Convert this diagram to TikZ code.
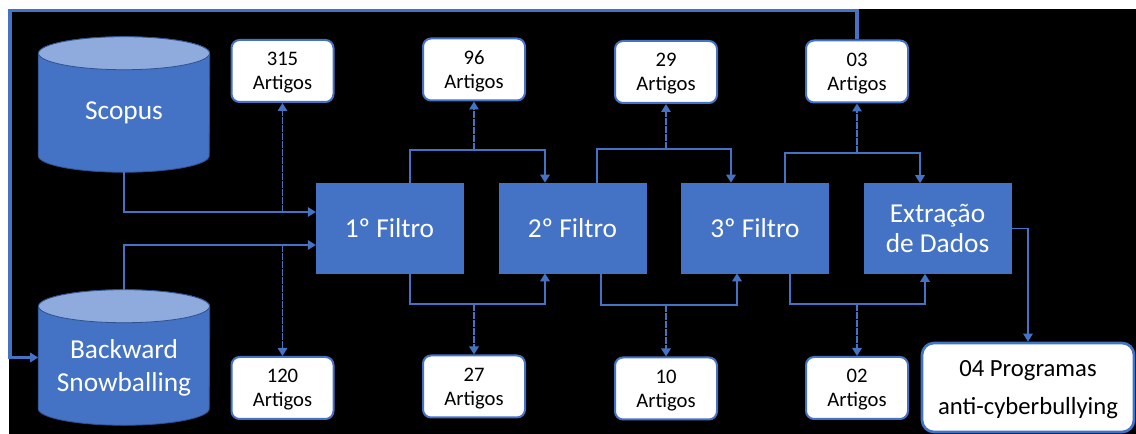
\documentclass[tikz,border=0pt]{standalone}
\usepackage{fontspec}
\setmainfont{Carlito}
\usetikzlibrary{shapes.geometric, arrows.meta, positioning, calc}
\definecolor{azul}{HTML}{4472C4}
\definecolor{azulclaro}{HTML}{8FAADC}
\definecolor{azulescuro}{HTML}{2F528F}

\begin{document}
\begin{tikzpicture}[x=0.75pt, y=-0.75pt,
  base/.style={rectangle, minimum width=128.25pt, minimum height=101.25pt, inner sep=0pt},
  rotulo/.style={text=white, align=center, font=\fontsize{20.5}{25}\selectfont},
  filtro/.style={rectangle, fill=azul, draw=azul, text=white, minimum width=110pt,
    minimum height=67.5pt, align=center, inner sep=0pt, font=\fontsize{20.5}{23}\selectfont},
  artigos/.style={rectangle, rounded corners=6pt, fill=white, draw=azul, line width=1.5pt,
    minimum width=76.5pt, minimum height=46.5pt, align=center, inner sep=0pt,
    text depth=0pt, font=\fontsize{15.5}{18}\selectfont},
  final/.style={artigos, rounded corners=9pt, line width=2pt, minimum width=159pt,
    minimum height=66.75pt, font=\fontsize{18.5}{28.5}\selectfont},
  fluxo/.style={draw=azul, line width=1.4pt, -{Triangle[length=6pt,width=7pt]}},
  corte/.style={fluxo, dash pattern=on 5pt off 1pt},
  retorno/.style={fluxo, line width=2.3pt},
]
\useasboundingbox (0,0) rectangle (1136,434);
\fill[white] (0,0) rectangle (1136,434);
\fill[black] (9,9) rectangle (1136,434);

% bases
\node[base] (scopus) at (124,104.5) {};
\node[base] (backward) at (124,357.5) {};
\foreach \b in {scopus, backward} {
  \filldraw[fill=azul, draw=azulescuro, line width=0.6pt]
    ($(\b.north west)+(0,16.5)$) -- ($(\b.south west)+(0,-16.5)$)
    arc[start angle=180, end angle=360, x radius=64.125pt, y radius=12.375pt]
    -- ($(\b.north east)+(0,16.5)$)
    arc[start angle=0, end angle=180, x radius=64.125pt, y radius=12.375pt] -- cycle;
  \filldraw[fill=azulclaro, draw=azulescuro, line width=0.6pt]
    ($(\b.north)+(0,16.5)$) ellipse[x radius=64.125pt, y radius=12.375pt];
}
\node[rotulo] (scopustxt) at (124,113) {Scopus};
\node[rotulo] (backwardtxt) at (124,368) {Backward\\Snowballing};

% filtros
\node[filtro] (f1) at (389.5,228) {1º Filtro};
\node[filtro] (f2) at (572.5,228) {2º Filtro};
\node[filtro] (f3) at (755,228) {3º Filtro};
\node[filtro] (fx) at (937.5,228.5) {Extração\\de Dados};

% contagens
\node[artigos] (a315) at (282.5,71) {315\\Artigos};
\node[artigos] (a96) at (474,69.5) {96\\Artigos};
\node[artigos] (a29) at (666,72) {29\\Artigos};
\node[artigos] (a03) at (857,71.5) {03\\Artigos};
\node[artigos] (a120) at (282.5,388) {120\\Artigos};
\node[artigos] (a27) at (474,386.5) {27\\Artigos};
\node[artigos] (a10) at (666,388.5) {10\\Artigos};
\node[artigos] (a02) at (857,388) {02\\Artigos};
\node[final] (prog) at (1028,387.5) {04 Programas\\anti-cyberbullying};

% entradas
\coordinate (e1) at ($(f1.west)+(0,-16)$);
\coordinate (e2) at ($(f1.west)+(0,17)$);
\draw[fluxo] (scopus.south) |- (e1);
\draw[fluxo] (backward.north) |- (e2);
\draw[corte] (e1 -| a315) -- (a315);
\draw[corte] (e2 -| a120) -- (a120);

% acima
\draw[fluxo] ($(f1.north)+(20.5,0)$) -- ++(0,-33) coordinate (t1) -| ($(f2.north)+(-27.5,0)$);
\draw[fluxo] ($(f2.north)+(24.5,0)$) -- ++(0,-34) coordinate (t2) -| ($(f3.north)+(-24,0)$);
\draw[fluxo] ($(f3.north)+(30,0)$) -- ++(0,-30) coordinate (t3) -| ($(fx.north)+(-17.5,0)$);
\draw[corte] (t1 -| a96) -- (a96);
\draw[corte] (t2 -| a29) -- (a29);
\draw[corte] (t3 -| a03) -- (a03);

% abaixo
\draw[fluxo] ($(f1.south)+(20.5,0)$) -- ++(0,31) coordinate (b1) -| ($(f2.south)+(-27.5,0)$);
\draw[fluxo] ($(f2.south)+(28.5,0)$) -- ++(0,32) coordinate (b2) -| ($(f3.south)+(-18,0)$);
\draw[fluxo] ($(f3.south)+(35,0)$) -- ++(0,31) coordinate (b3) -| ($(fx.south)+(-12.5,0)$);
\draw[corte] (b1 -| a27) -- (a27);
\draw[corte] (b2 -| a10) -- (a10);
\draw[corte] (b3 -| a02) -- (a02);

\draw[fluxo] (fx.east) -| (prog.north);

% retorno
\coordinate (canto) at (10,10.5);
\draw[retorno] (a03.north) |- (canto) |- (backward.west);
\end{tikzpicture}
\end{document}
